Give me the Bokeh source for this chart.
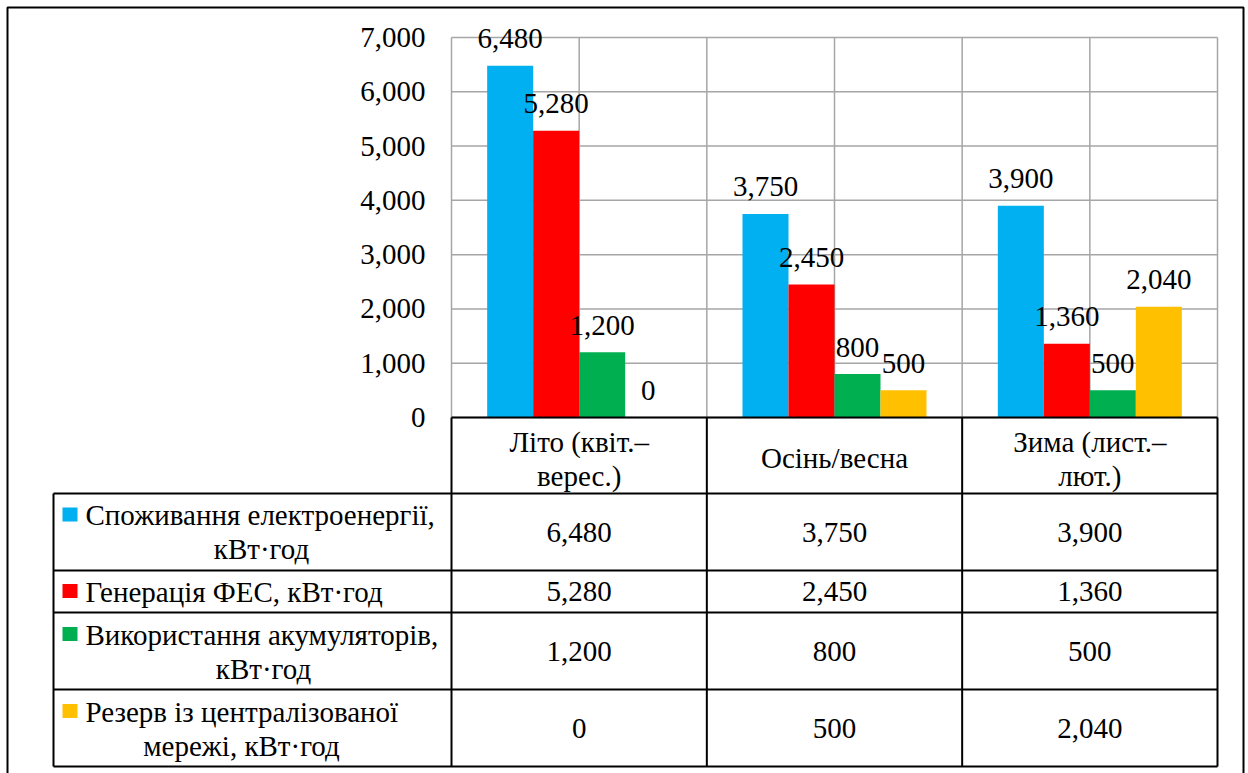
from bokeh.plotting import figure
from bokeh.models import Range1d
from bokeh.core.properties import value
from bokeh.embed import file_html
from bokeh.resources import INLINE

# ---------------- data ----------------
category_lines = [["Літо (квіт.–", "верес.)"], ["Осінь/весна"], ["Зима (лист.–", "лют.)"]]
series_lines = [["Споживання електроенергії,", "кВт·год"],
                ["Генерація ФЕС, кВт·год"],
                ["Використання акумуляторів,", "кВт·год"],
                ["Резерв із централізованої", "мережі, кВт·год"]]
consumption = [6480, 3750, 3900]
generation = [5280, 2450, 1360]
batteries = [1200, 800, 500]
grid_reserve = [0, 500, 2040]
series_colors = ["#00B0F0", "#FF0000", "#00B050", "#FFC000"]
y_ticks = [0, 1000, 2000, 3000, 4000, 5000, 6000, 7000]

series = [consumption, generation, batteries, grid_reserve]

# ---------------- layout (pixels) ----------------
W, H = 1248, 773
PL, PR, PT, PB = 451, 1217, 37, 417
YMAX = 7000
NCAT = 3
px_per_cat = (PR - PL) / NCAT
px_per_unit = (PB - PT) / YMAX
BAR_W = 46 / px_per_cat
FONT = value("Liberation Serif")
FS = "29px"
TXT = dict(text_font=FONT, text_font_size=FS, text_color="black", text_baseline="middle")

p = figure(width=W, height=H,
           x_range=Range1d(-PL / px_per_cat, (W - PL) / px_per_cat),
           y_range=Range1d(-(H - PB) / px_per_unit, YMAX + PT / px_per_unit),
           x_axis_type=None, y_axis_type=None, min_border=0,
           toolbar_location=None, output_backend="svg")
p.outline_line_color = None
p.background_fill_color = "white"
p.border_fill_color = "white"
p.extra_x_ranges = {"px": Range1d(0, W)}
p.extra_y_ranges = {"px": Range1d(H, 0)}
PX = dict(x_range_name="px", y_range_name="px")

GRID = "#a6a6a6"
# gridlines (data space)
p.segment(x0=[0] * len(y_ticks), x1=[NCAT] * len(y_ticks), y0=y_ticks, y1=y_ticks,
          line_color=GRID, line_width=1.5)
vx = [i * 0.5 for i in range(2 * NCAT + 1)]
p.segment(x0=vx, x1=vx, y0=[0] * len(vx), y1=[YMAX] * len(vx),
          line_color=GRID, line_width=1.5)

# bars + data labels
for j, vals in enumerate(series):
    off = (j - 1.5) * BAR_W
    xs = [i + 0.5 + off for i in range(NCAT)]
    p.vbar(x=xs, top=vals, bottom=0, width=BAR_W, fill_color=series_colors[j],
           line_color=None)
    p.text(x=xs, y=vals, text=[f"{v:,}" for v in vals], text_align="center",
           y_offset=-27, **TXT)

# y tick labels
p.text(x=[0] * len(y_ticks), y=y_ticks, text=[f"{t:,}" for t in y_ticks],
       x_offset=-26, text_align="right", **TXT)

# ---------------- data table (pixel space) ----------------
TL = 53
row_edges = [493, 570, 612, 689, 766]
col_edges = [PL + i * px_per_cat for i in range(NCAT + 1)]
LW = 2
p.segment(x0=[PL], x1=[PR], y0=[PB], y1=[PB], line_color="black", line_width=LW, **PX)
p.segment(x0=[TL] * len(row_edges), x1=[PR] * len(row_edges), y0=row_edges, y1=row_edges,
          line_color="black", line_width=LW, **PX)
p.segment(x0=col_edges, x1=col_edges, y0=[PB] * len(col_edges), y1=[row_edges[-1]] * len(col_edges),
          line_color="black", line_width=LW, **PX)
p.segment(x0=[TL], x1=[TL], y0=[row_edges[0]], y1=[row_edges[-1]],
          line_color="black", line_width=LW, **PX)

# header: categories
col_centers = [PL + (i + 0.5) * px_per_cat for i in range(NCAT)]
hx, hy, ht = [], [], []
for i, lines in enumerate(category_lines):
    ys = [441, 475] if len(lines) == 2 else [457]
    for ln, yy in zip(lines, ys):
        hx.append(col_centers[i]); hy.append(yy); ht.append(ln)
p.text(x=hx, y=hy, text=ht, text_align="center", **TXT, **PX)

# values
vx_, vy_, vt_ = [], [], []
for j, vals in enumerate(series):
    yc = (row_edges[j] + row_edges[j + 1]) / 2
    for i, v in enumerate(vals):
        vx_.append(col_centers[i]); vy_.append(yc); vt_.append(f"{v:,}")
p.text(x=vx_, y=vy_, text=vt_, text_align="center", **TXT, **PX)

# legend rows
first_center = [514.5, 591, 634, 711]
second_center_x = [261, None, 263, 241]
l1x, l1y, l1t, l2x, l2y, l2t = [], [], [], [], [], []
for j, lines in enumerate(series_lines):
    l1x.append(85); l1y.append(first_center[j]); l1t.append(lines[0])
    if len(lines) > 1:
        l2x.append(second_center_x[j]); l2y.append(first_center[j] + 34); l2t.append(lines[1])
p.text(x=l1x, y=l1y, text=l1t, text_align="left", **TXT, **PX)
p.text(x=l2x, y=l2y, text=l2t, text_align="center", **TXT, **PX)
# legend keys
p.rect(x=[69.5] * 4, y=[c - 0.5 for c in first_center], width=15, height=14,
       fill_color=series_colors, line_color=None, **PX)

# outer border
p.rect(x=[(7 + 1243) / 2], y=[(7 + 800) / 2], width=1243 - 7, height=800 - 7,
       fill_color=None, line_color="black", line_width=2, **PX)

open("out.html", "w").write(file_html(p, INLINE))
